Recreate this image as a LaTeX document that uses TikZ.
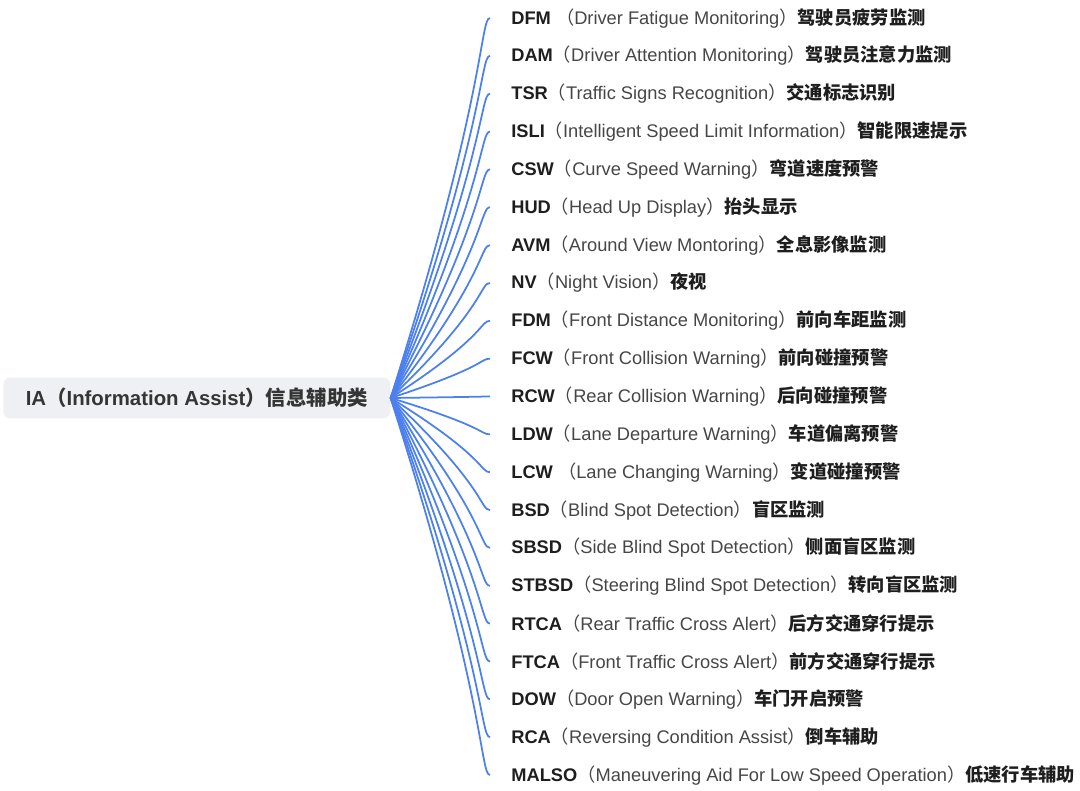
\documentclass[tikz,border=0pt]{standalone}
\usepackage{fontspec}
\setmainfont{Liberation Sans}
\newfontfamily\cjk{Noto Sans CJK SC}
\usetikzlibrary{calc}

\definecolor{branchblue}{RGB}{76,128,238}
\definecolor{rootgray}{RGB}{238,240,243}
\definecolor{txtdark}{RGB}{30,30,30}
\definecolor{txtmid}{RGB}{70,70,70}

% one leaf: bold acronym, full name in brackets, bold chinese name
\newcommand{\leaftext}[3]{{\bfseries #1}{\color{txtmid}{\cjk （}#2{\cjk ）}}{\cjk\bfseries #3}}

\begin{document}
\begin{tikzpicture}[x=0.02cm, y=-0.02cm,
  branch/.style={draw=branchblue, line width=1pt},
  leaf/.style={anchor=west, inner xsep=0.42cm, inner ysep=0pt, text=txtdark,
    font=\fontsize{10.4}{12}\selectfont},
  topic/.style={anchor=west, fill=rootgray, rounded corners=4pt, text=txtdark!90,
    minimum width=7.74cm, minimum height=0.82cm, inner xsep=0.38cm,
    font=\fontsize{11.6}{14}\selectfont\bfseries}]
  \useasboundingbox (0,0) rectangle (1080,791);
  % Root topic
  \node[topic] (ia) at (3,398) {IA{\cjk （}Information Assist{\cjk ）}{\cjk 信息辅助类}};
  % Leaves and branches
  \foreach \i/\ab/\en/\zh [evaluate=\i as \y using 18+37.85*(\i-1)] in {
      1/DFM\space/Driver Fatigue Monitoring/驾驶员疲劳监测,
      2/DAM/Driver Attention Monitoring/驾驶员注意力监测,
      3/TSR/Traffic Signs Recognition/交通标志识别,
      4/ISLI/Intelligent Speed Limit Information/智能限速提示,
      5/CSW/Curve Speed Warning/弯道速度预警,
      6/HUD/Head Up Display/抬头显示,
      7/AVM/Around View Montoring/全息影像监测,
      8/NV/Night Vision/夜视,
      9/FDM/Front Distance Monitoring/前向车距监测,
      10/FCW/Front Collision Warning/前向碰撞预警,
      11/RCW/Rear Collision Warning/后向碰撞预警,
      12/LDW/Lane Departure Warning/车道偏离预警,
      13/LCW\space/Lane Changing Warning/变道碰撞预警,
      14/BSD/Blind Spot Detection/盲区监测,
      15/SBSD/Side Blind Spot Detection/侧面盲区监测,
      16/STBSD/Steering Blind Spot Detection/转向盲区监测,
      17/RTCA/Rear Traffic Cross Alert/后方交通穿行提示,
      18/FTCA/Front Traffic Cross Alert/前方交通穿行提示,
      19/DOW/Door Open Warning/车门开启预警,
      20/RCA/Reversing Condition Assist/倒车辅助,
      21/MALSO/Maneuvering Aid For Low Speed Operation/低速行车辅助} {
    \node[leaf] (l\i) at (490,\y) {\leaftext{\ab}{\en}{\zh}};
    \draw[branch] (ia.east) .. controls ($(ia.east)+(96,{0.8*(\y-398)})$)
      and ($(l\i.west)+(-10,0)$) .. (l\i.west);
  }
\end{tikzpicture}
\end{document}
